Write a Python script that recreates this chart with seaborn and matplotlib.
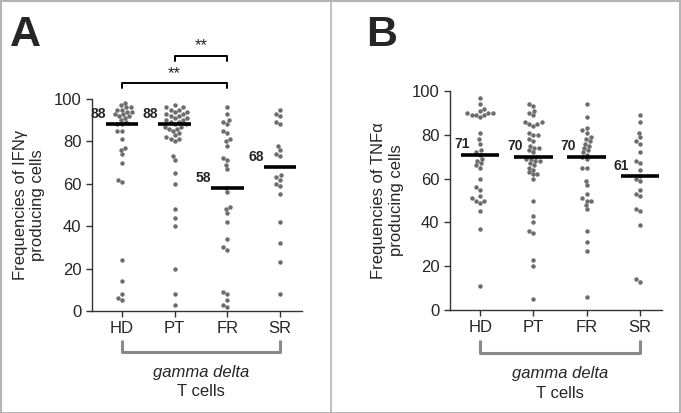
import numpy as np
import pandas as pd
import matplotlib
matplotlib.use("Agg")
import matplotlib.pyplot as plt
import seaborn as sns

groups = ["HD", "PT", "FR", "SR"]

# panel A: IFN-gamma producing cells (%)
ifng_hd = [98, 97, 96, 96, 95, 95, 94, 94, 93, 93, 92, 92, 91, 90, 89, 88, 88,
           85, 85, 81, 77, 76, 74, 70, 62, 61, 24, 14, 8, 6, 5]
ifng_pt = [97, 96, 96, 95, 95, 94, 94, 93, 93, 92, 92, 91, 91, 90, 90, 89, 89,
           88, 88, 87, 87, 86, 86, 85, 84, 83, 82, 81, 81, 80, 73, 71, 65, 60,
           48, 44, 40, 20, 8, 3]
ifng_fr = [96, 93, 90, 89, 88, 85, 84, 81, 80, 78, 72, 71, 69, 67, 58, 56, 49,
           48, 46, 42, 34, 30, 29, 9, 8, 5, 3, 2]
ifng_sr = [95, 93, 92, 89, 88, 78, 76, 74, 73, 64, 63, 62, 60, 59, 55, 42, 32,
           23, 8]
ifng_medians = [88, 88, 58, 68]

# panel B: TNF-alpha producing cells (%)
tnfa_hd = [97, 94, 92, 91, 90, 90, 90, 89, 89, 89, 88, 81, 78, 76, 73, 72, 71,
           69, 68, 67, 66, 65, 60, 56, 55, 52, 51, 50, 50, 49, 45, 37, 11]
tnfa_pt = [94, 93, 91, 90, 89, 86, 86, 85, 85, 84, 81, 80, 80, 78, 77, 75, 74,
           74, 73, 72, 70, 69, 69, 68, 68, 67, 66, 65, 64, 63, 62, 62, 60, 50,
           43, 40, 36, 35, 23, 20, 5]
tnfa_fr = [94, 88, 83, 82, 81, 79, 78, 77, 76, 75, 74, 73, 72, 71, 70, 69, 65,
           65, 59, 57, 53, 51, 50, 50, 48, 46, 36, 31, 27, 6]
tnfa_sr = [89, 86, 81, 79, 77, 76, 72, 68, 67, 64, 61, 60, 59, 55, 53, 52, 46,
           45, 39, 14, 13]
tnfa_medians = [71, 70, 70, 61]


def long_df(series):
    rows = []
    for g, vals in zip(groups, series):
        for v in vals:
            rows.append((g, v))
    return pd.DataFrame(rows, columns=["group", "value"])


df_a = long_df([ifng_hd, ifng_pt, ifng_fr, ifng_sr])
df_b = long_df([tnfa_hd, tnfa_pt, tnfa_fr, tnfa_sr])

sns.set_style("ticks")
plt.rcParams["font.family"] = ["Liberation Sans", "DejaVu Sans"]

fig = plt.figure(figsize=(6.81, 4.13), dpi=100)
ax_a = fig.add_axes([92 / 681, (413 - 311) / 413, 210 / 681, 212 / 413])
ax_b = fig.add_axes([450 / 681, (413 - 310) / 413, 212 / 681, 219 / 413])

dot_color = "#6c6c6c"


def draw_panel(ax, df, medians, ylabel, line_half, label_dx):
    sns.swarmplot(data=df, x="group", y="value", order=groups, ax=ax,
                  color=dot_color, size=3.2, linewidth=0)
    for i, m in enumerate(medians):
        ax.hlines(m, i - line_half, i + line_half, color="black", lw=2.6, zorder=5)
        ax.text(i - line_half + label_dx, m + 1.5, str(m), ha="right", va="bottom",
                fontsize=10, fontweight="bold", zorder=6)
    ax.set_xlim(-0.57, 3.42)
    ax.set_ylim(0, 100)
    ax.set_yticks([0, 20, 40, 60, 80, 100])
    ax.set_xlabel("")
    ax.set_ylabel(ylabel, fontsize=12, labelpad=6)
    ax.tick_params(axis="both", labelsize=12, length=4, width=1, color="#333333")
    for s in ["top", "right"]:
        ax.spines[s].set_visible(False)
    for s in ["left", "bottom"]:
        ax.spines[s].set_linewidth(1)
        ax.spines[s].set_color("#333333")

    # grey bracket under the x axis
    tr = ax.get_xaxis_transform()
    ax.plot([0, 0, 3, 3], [-0.135, -0.195, -0.195, -0.135], transform=tr,
            color="#8a8a8a", lw=2.2, clip_on=False, solid_capstyle="butt")
    ax.text(1.5, -0.29, "gamma delta", transform=tr, ha="center", va="center",
            fontsize=12, style="italic")
    ax.text(1.5, -0.38, "T cells", transform=tr, ha="center", va="center",
            fontsize=12)


draw_panel(ax_a, df_a, ifng_medians, "Frequencies of IFN\u03b3\nproducing cells", 0.31, 0.0)
draw_panel(ax_b, df_b, tnfa_medians, "Frequencies of TNF\u03b1\nproducing cells", 0.36, 0.16)

# significance brackets in panel A
ax_a.plot([0, 0, 2, 2], [105, 107.5, 107.5, 105], color="black", lw=1.4, clip_on=False)
ax_a.text(1, 108.5, "**", ha="center", va="bottom", fontsize=12)
ax_a.plot([1, 1, 2, 2], [118, 120.5, 120.5, 118], color="black", lw=1.4, clip_on=False)
ax_a.text(1.5, 121.5, "**", ha="center", va="bottom", fontsize=12)

# panel letters
fig.text(10 / 681, 1 - 46 / 413, "A", fontsize=31, fontweight="bold", ha="left", va="baseline")
fig.text(366 / 681, 1 - 46 / 413, "B", fontsize=31, fontweight="bold", ha="left", va="baseline")

# divider and frame
fig.add_artist(plt.Line2D([331 / 681, 331 / 681], [0, 1], color="#b5b5b5", lw=1.2))
fig.add_artist(plt.Rectangle((0.001, 0.001), 0.998, 0.997, fill=False,
                             edgecolor="#b5b5b5", lw=1.5))

fig.savefig("out.png", dpi=100)
